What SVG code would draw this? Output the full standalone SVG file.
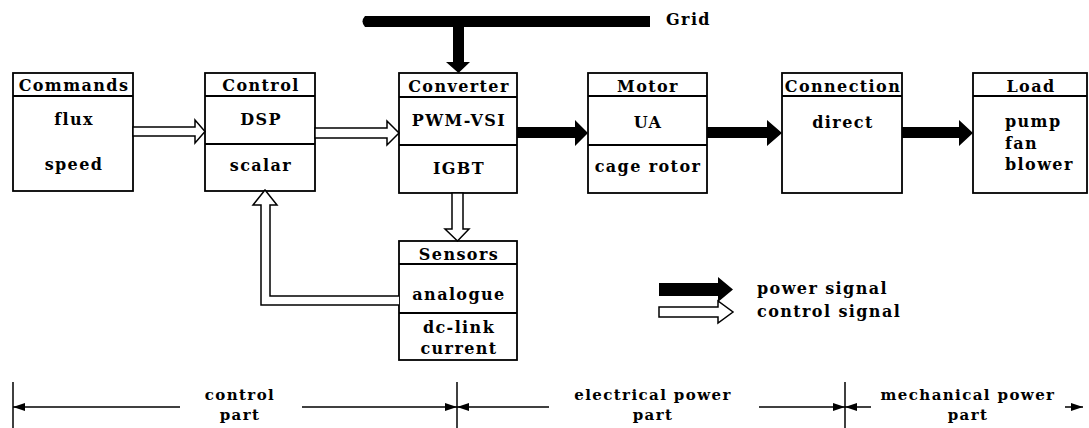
<svg xmlns="http://www.w3.org/2000/svg" width="1089" height="428" viewBox="0 0 1089 428">
<style>
.box{fill:#fff;stroke:#000;stroke-width:1.8}
.div{stroke:#000;stroke-width:1.8}
text{font-family:"DejaVu Serif","Liberation Serif",serif;font-weight:bold;font-size:16px;fill:#000;letter-spacing:1.4px}
.c{text-anchor:middle}
.s{font-size:15px}
.pw{fill:#000;stroke:none}
.ct{fill:#fff;stroke:#000;stroke-width:1.5;stroke-linejoin:miter}
.dim{stroke:#000;stroke-width:1.5;fill:none}
</style>
<defs>
<marker id="ah" markerWidth="12" markerHeight="8" refX="12" refY="4" orient="auto" markerUnits="userSpaceOnUse">
<path d="M0,0 L12,4 L0,8 Z" fill="#000"/>
</marker>
</defs>

<g id="grid">
<path d="M365,16 L650,16 L650,27 L365,27 Q360,21.5 365,16 Z" fill="#000"/>
<text x="666" y="25">Grid</text>
</g>

<g id="commands">
<rect class="box" x="13" y="73" width="120" height="118"/>
<line class="div" x1="13" y1="96" x2="133" y2="96"/>
<text class="c" x="74" y="91">Commands</text>
<text class="c" x="74" y="125">flux</text>
<text class="c" x="74" y="170">speed</text>
</g>

<g id="control">
<rect class="box" x="205" y="73" width="110" height="118"/>
<line class="div" x1="205" y1="96" x2="315" y2="96"/>
<line class="div" x1="205" y1="144" x2="315" y2="144"/>
<text class="c" x="261" y="91">Control</text>
<text class="c" x="261" y="125">DSP</text>
<text class="c" x="261" y="171">scalar</text>
</g>

<g id="converter">
<rect class="box" x="399" y="73" width="118" height="120"/>
<line class="div" x1="399" y1="97" x2="517" y2="97"/>
<line class="div" x1="399" y1="145" x2="517" y2="145"/>
<text class="c" x="459" y="92">Converter</text>
<text class="c" x="459" y="126">PWM-VSI</text>
<text class="c" x="459" y="174">IGBT</text>
</g>

<g id="motor">
<rect class="box" x="588" y="73" width="119" height="120"/>
<line class="div" x1="588" y1="96" x2="707" y2="96"/>
<line class="div" x1="588" y1="145" x2="707" y2="145"/>
<text class="c" x="648" y="92">Motor</text>
<text class="c" x="648" y="128">UA</text>
<text class="c" x="648" y="172">cage rotor</text>
</g>

<g id="connection">
<rect class="box" x="782" y="73" width="120" height="120"/>
<line class="div" x1="782" y1="96" x2="902" y2="96"/>
<text class="c" x="843" y="92">Connection</text>
<text class="c" x="843" y="128">direct</text>
</g>

<g id="load">
<rect class="box" x="973" y="73" width="114" height="120"/>
<line class="div" x1="973" y1="96" x2="1087" y2="96"/>
<text class="c" x="1031" y="92">Load</text>
<text x="1005" y="127">pump</text>
<text x="1005" y="149">fan</text>
<text x="1005" y="170">blower</text>
</g>

<g id="sensors">
<rect class="box" x="399" y="241" width="118" height="119"/>
<line class="div" x1="399" y1="264" x2="517" y2="264"/>
<line class="div" x1="399" y1="313" x2="517" y2="313"/>
<text class="c" x="459" y="260">Sensors</text>
<text class="c" x="459" y="300">analogue</text>
<text class="c" x="459" y="333">dc-link</text>
<text class="c" x="459" y="354">current</text>
</g>

<g id="connectors">
<path class="pw" d="M453,27 L464,27 L464,62 L470,62 L458.5,73 L446,62 L453,62 Z"/>
<path class="pw" d="M517,127 L575,127 L575,120 L588,133 L575,146 L575,138 L517,138 Z"/>
<path class="pw" d="M707,127 L767,127 L767,120 L782,133 L767,146 L767,138 L707,138 Z"/>
<path class="pw" d="M902,127 L959,127 L959,120 L973,133 L959,146 L959,138 L902,138 Z"/>
<path class="ct" d="M133,127 L195,127 L195,120 L205,131.5 L195,143 L195,136 L133,136 Z"/>
<path class="ct" d="M315,128 L387,128 L387,121 L399,133 L387,145 L387,138 L315,138 Z"/>
<path class="ct" d="M452,193 L463,193 L463,229 L469,229 L457.5,241 L445,229 L452,229 Z"/>
<path class="ct" d="M399,296 L270,296 L270,205 L277,205 L265,190 L253,205 L261,205 L261,305 L399,305"/>
</g>

<g id="legend">
<path class="pw" d="M659,283 L718,283 L718,277 L733,289.5 L718,302 L718,296 L659,296 Z"/>
<text x="757" y="294">power signal</text>
<path class="ct" d="M659,307 L718,307 L718,301 L733,312 L718,323 L718,317 L659,317 Z"/>
<text x="757" y="317">control signal</text>
</g>

<g id="parts">
<line class="dim" x1="13" y1="382" x2="13" y2="428"/>
<line class="dim" x1="457" y1="382" x2="457" y2="428"/>
<line class="dim" x1="845" y1="382" x2="845" y2="428"/>
<line class="dim" x1="180" y1="407" x2="13" y2="407" marker-end="url(#ah)"/>
<line class="dim" x1="302" y1="407" x2="457" y2="407" marker-end="url(#ah)"/>
<line class="dim" x1="549" y1="407" x2="457" y2="407" marker-end="url(#ah)"/>
<line class="dim" x1="759" y1="407" x2="845" y2="407" marker-end="url(#ah)"/>
<line class="dim" x1="871" y1="407" x2="845" y2="407" marker-end="url(#ah)"/>
<line class="dim" x1="1065" y1="407" x2="1083" y2="407" marker-end="url(#ah)"/>
<text class="c s" x="240" y="400">control</text>
<text class="c s" x="240" y="420">part</text>
<text class="c s" x="653" y="400">electrical power</text>
<text class="c s" x="653" y="420">part</text>
<text class="c s" x="968" y="400">mechanical power</text>
<text class="c s" x="968" y="420">part</text>
</g>
</svg>
